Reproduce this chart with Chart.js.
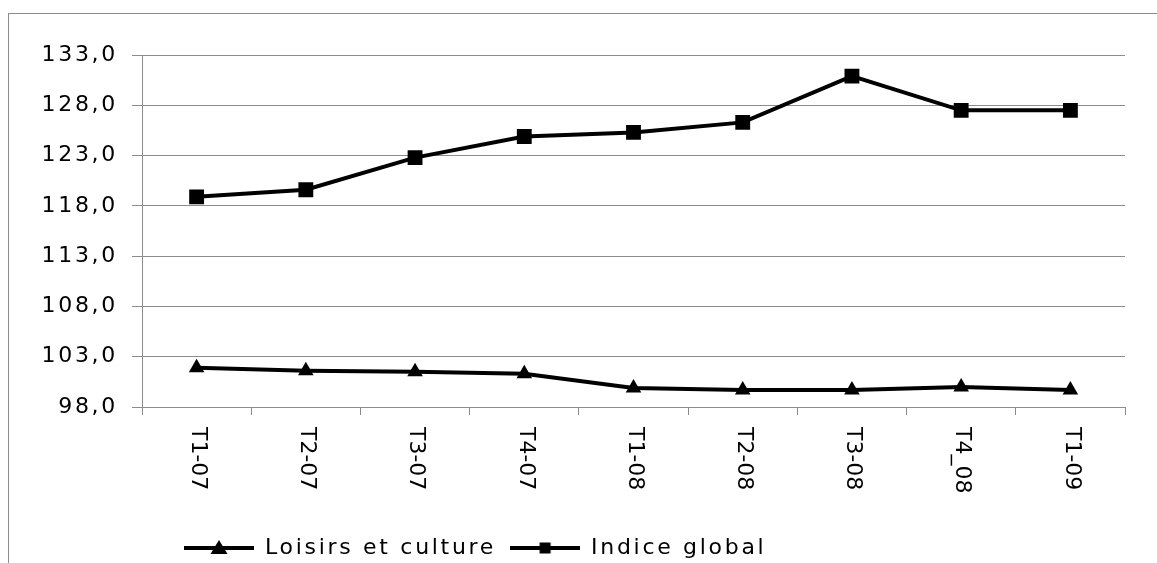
<!DOCTYPE html>
<html>
<head>
<meta charset="utf-8">
<script src="https://cdn.jsdelivr.net/npm/chart.js@4/dist/chart.umd.min.js"></script>
<style>
  html, body { margin: 0; padding: 0; background: #fff; overflow: hidden; }
  #frame { position: absolute; left: 8px; top: 13px; width: 2000px; height: 1000px;
           border-left: 1px solid #8c8c8c; border-top: 1px solid #8c8c8c; }
  #chart { position: absolute; left: 0; top: 0; }
</style>
</head>
<body>
<div id="frame"></div>
<canvas id="chart" width="1157" height="563"></canvas>
<script>
// quarters on the x axis
const categories = ['T1-07', 'T2-07', 'T3-07', 'T4-07', 'T1-08', 'T2-08', 'T3-08', 'T4_08', 'T1-09'];
// series
const loisirsCulture = [101.9, 101.6, 101.5, 101.3, 99.9, 99.7, 99.7, 100.0, 99.7];
const indiceGlobal = [118.9, 119.6, 122.8, 124.9, 125.3, 126.3, 130.9, 127.5, 127.5];
const seriesNames = ['Loisirs et culture', 'Indice global'];
// y axis range and step
const yMin = 98, yMax = 133, yStep = 5;

const FONT = 'DejaVu Sans';
const gridGray = '#8c8c8c';

//small picture for the legend: a line with the marker in the middle
function legendSample(shape) {
    const c = document.createElement('canvas');
    c.width = 70;
    c.height = 20;
    const g = c.getContext('2d');
    g.fillStyle = '#000';
    g.fillRect(0, 8, 70, 4);
    g.beginPath();
    if (shape === 'triangle') {
        g.moveTo(35, 2);
        g.lineTo(43.5, 16);
        g.lineTo(26.5, 16);
    } else {
        g.rect(29.5, 4.5, 11, 11);
    }
    g.closePath();
    g.fill();
    return c;
}

//draws the x labels turned clockwise, like the original
const xLabelsPlugin = {
    id: 'xLabels',
    afterDraw(chart) {
        const scale = chart.scales.x;
        const ctx = chart.ctx;
        ctx.save();
        ctx.letterSpacing = '0px';
        ctx.font = '22px "' + FONT + '"';
        ctx.fillStyle = '#000';
        ctx.textAlign = 'left';
        ctx.textBaseline = 'middle';
        categories.forEach((label, i) => {
            ctx.save();
            ctx.translate(scale.getPixelForTick(i) + 1, scale.top + 20);
            ctx.rotate(Math.PI / 2);
            ctx.fillText(label, 0, 0);
            ctx.restore();
        });
        ctx.restore();
    }
};

//wider letter spacing for the tick labels and legend text, legend moved under the plot
const spacingPlugin = {
    id: 'spacing',
    beforeUpdate(chart) { chart.ctx.letterSpacing = '2.7px'; },
    beforeDraw(chart) { chart.ctx.letterSpacing = '2.7px'; },
    afterLayout(chart) {
        const lg = chart.legend;
        lg.left = 184 - lg.options.labels.padding;
        lg.top += 6;
        lg.bottom += 6;
    }
};

new Chart(document.getElementById('chart'), {
    type: 'line',
    data: {
        labels: categories,
        datasets: [{
            label: seriesNames[0],
            data: loisirsCulture,
            borderColor: '#000',
            backgroundColor: '#000',
            borderWidth: 4,
            pointStyle: 'triangle',
            pointRadius: 9,
            pointBackgroundColor: '#000',
            pointBorderWidth: 0,
            tension: 0
        }, {
            label: seriesNames[1],
            data: indiceGlobal,
            borderColor: '#000',
            backgroundColor: '#000',
            borderWidth: 4,
            pointStyle: 'rect',
            pointRadius: 10.5,
            pointBackgroundColor: '#000',
            pointBorderWidth: 0,
            tension: 0
        }]
    },
    options: {
        responsive: false,
        animation: false,
        layout: { padding: { top: 55, right: 32, bottom: 0, left: 0 } },
        scales: {
            x: {
                offset: true,
                grid: { offset: true, drawOnChartArea: false, color: gridGray, tickLength: 8 },
                border: { color: gridGray },
                ticks: { color: 'rgba(0,0,0,0)', autoSkip: false, minRotation: 90, maxRotation: 90,
                         font: { family: FONT, size: 22 } },
                afterFit(s) { s.height = 110; }
            },
            y: {
                min: yMin,
                max: yMax,
                ticks: {
                    stepSize: yStep,
                    color: '#000',
                    padding: 14,
                    font: { family: FONT, size: 22 },
                    callback: v => v.toFixed(1).replace('.', ',')
                },
                grid: { color: gridGray, tickLength: 10 },
                border: { color: gridGray },
                afterFit(s) { s.width = 142; }
            }
        },
        plugins: {
            tooltip: { enabled: false },
            legend: {
                position: 'bottom',
                align: 'start',
                labels: {
                    usePointStyle: true,
                    pointStyleWidth: 70,
                    padding: 14,
                    color: '#000',
                    font: { family: FONT, size: 22 },
                    generateLabels(chart) {
                        return chart.data.datasets.map((ds, i) => ({
                            text: ds.label,
                            pointStyle: legendSample(ds.pointStyle),
                            fillStyle: '#000',
                            strokeStyle: '#000',
                            lineWidth: 0,
                            hidden: false,
                            datasetIndex: i
                        }));
                    }
                }
            }
        }
    },
    plugins: [xLabelsPlugin, spacingPlugin]
});
</script>
</body>
</html>
